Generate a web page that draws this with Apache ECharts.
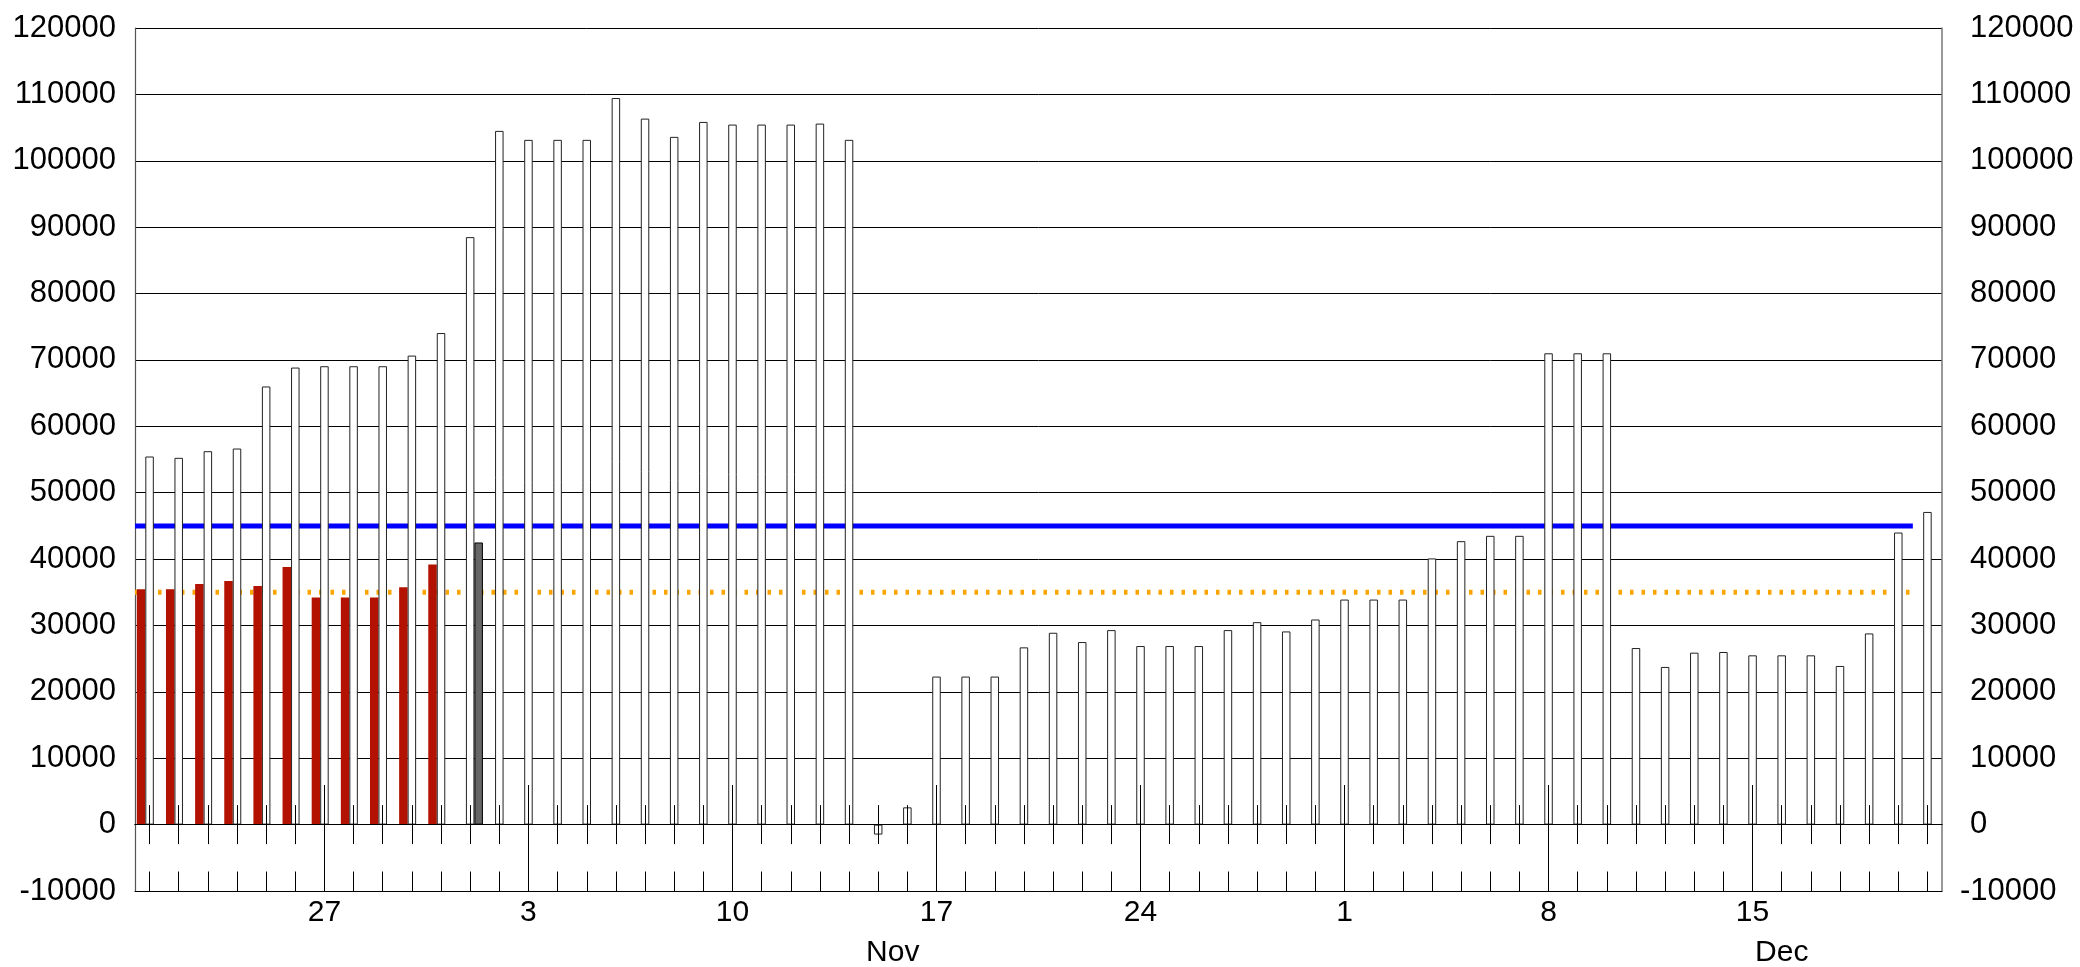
<!DOCTYPE html>
<html>
<head>
<meta charset="utf-8">
<script src="https://cdn.jsdelivr.net/npm/echarts@6/dist/echarts.min.js"></script>
<style>
html,body{margin:0;padding:0;background:#ffffff;}
#chart{width:2080px;height:967px;}
</style>
</head>
<body>
<div id="chart"></div>
<script>
// ---- data ----
const categories = [
  'Oct 21','Oct 22','Oct 23','Oct 24','Oct 25','Oct 26','Oct 27','Oct 28','Oct 29','Oct 30','Oct 31',
  'Nov 1','Nov 2','Nov 3','Nov 4','Nov 5','Nov 6','Nov 7','Nov 8','Nov 9','Nov 10',
  'Nov 11','Nov 12','Nov 13','Nov 14','Nov 15','Nov 16','Nov 17','Nov 18','Nov 19','Nov 20',
  'Nov 21','Nov 22','Nov 23','Nov 24','Nov 25','Nov 26','Nov 27','Nov 28','Nov 29','Nov 30',
  'Dec 1','Dec 2','Dec 3','Dec 4','Dec 5','Dec 6','Dec 7','Dec 8','Dec 9','Dec 10',
  'Dec 11','Dec 12','Dec 13','Dec 14','Dec 15','Dec 16','Dec 17','Dec 18','Dec 19','Dec 20','Dec 21'
];
const whiteValues = [
  55450, 55250, 56250, 56650, 66000, 68850, 69050, 69050, 69050, 70650, 74050,
  88500, 104500, 103150, 103150, 103150, 109450, 106350, 103600, 105850, 105450,
  105450, 105450, 105600, 103150, -1500, 2600, 22300, 22300, 22300, 26700,
  28900, 27500, 29300, 26900, 26900, 26900, 29300, 30500, 29100, 30900,
  33900, 33900, 33900, 40100, 42700, 43500, 43500, 71000, 71000, 71000,
  26600, 23750, 25900, 26000, 25500, 25500, 25500, 23900, 28800, 44000, 47100
];
// red bars: first days of the range
const redValues = [35450, 35450, 36250, 36700, 35950, 38800, 34200, 34200, 34200, 35750, 39200];
// single gray bar
const grayDay = 'Nov 1';
const grayValue = 42500;
// reference lines
const blueLevel = 45000;
const orangeLevel = 35000;
const refLineFirstDay = 'Oct 21';
const refLineLastDay = 'Dec 20';
// tick labels
const weekLabelDays = ['Oct 27','Nov 3','Nov 10','Nov 17','Nov 24','Dec 1','Dec 8','Dec 15'];
const months = [ {name:'Nov', first:'Nov 1', days:30}, {name:'Dec', first:'Dec 1', days:31} ];
const yMin = -10000, yMax = 120000, yStep = 10000;

// ---- build ----
const n = categories.length;
const redData = categories.map((c, i) => i < redValues.length ? redValues[i] : null);
const grayData = categories.map(c => c === grayDay ? grayValue : null);
const pos = d => categories.indexOf(d) + 1; // 1-based day position
const lineFrom = pos(refLineFirstDay) - 0.5;
const lineTo = pos(refLineLastDay) + 0.5;
const monthPos = months.map(m => pos(m.first) + (m.days - 1) / 2);
const monthByPos = {};
months.forEach((m, i) => { monthByPos[monthPos[i]] = m.name; });
const isWeek = (i, v) => weekLabelDays.indexOf(v !== undefined ? v : categories[i]) >= 0;

const FONT = 'Liberation Sans, Arial, sans-serif';
const black = '#000000';

const chart = echarts.init(document.getElementById('chart'), null, {renderer: 'canvas'});
const baseCat = {
  type: 'category', data: categories, gridIndex: 0, position: 'bottom',
  splitLine: {show: false}, z: 5
};
chart.setOption({
  animation: false,
  backgroundColor: '#ffffff',
  textStyle: {fontFamily: FONT},
  grid: {left: 135, right: 138, top: 28, bottom: 76, containLabel: false, outerBoundsMode: 'none'},
  xAxis: [
    Object.assign({}, baseCat, {
      axisLine: {show: true, onZero: false, lineStyle: {color: black, width: 1}},
      axisTick: {show: true, alignWithLabel: true, inside: true, length: 19.5, interval: 0, lineStyle: {color: black, width: 1}},
      axisLabel: {show: true, interval: isWeek, formatter: v => v.split(' ')[1], fontSize: 30, margin: 7, color: black, fontFamily: FONT}
    }),
    Object.assign({}, baseCat, {
      axisLine: {show: false, onZero: false},
      axisTick: {show: true, alignWithLabel: true, inside: true, length: 106, interval: isWeek, lineStyle: {color: black, width: 1}},
      axisLabel: {show: false}
    }),
    Object.assign({}, baseCat, {
      axisLine: {show: true, onZero: true, onZeroAxisIndex: 0, lineStyle: {color: black, width: 1}},
      axisTick: {show: true, alignWithLabel: true, inside: false, length: 19.5, interval: 0, lineStyle: {color: black, width: 1}},
      axisLabel: {show: false}
    }),
    Object.assign({}, baseCat, {
      axisLine: {show: true, onZero: true, onZeroAxisIndex: 0, lineStyle: {color: black, width: 1}},
      axisTick: {show: true, alignWithLabel: true, inside: true, length: 19.5, interval: 0, lineStyle: {color: black, width: 1}},
      axisLabel: {show: false}
    }),
    {
      type: 'value', gridIndex: 0, min: 0.5, max: n + 0.5, show: false,
      axisLine: {onZero: false}
    },
    {
      type: 'value', gridIndex: 0, min: 0.5, max: n + 0.5, position: 'bottom',
      axisLine: {show: false, onZero: false}, axisTick: {show: false}, splitLine: {show: false},
      axisLabel: {show: true, customValues: monthPos, formatter: v => monthByPos[v] || '', fontSize: 30, margin: 47, color: black, fontFamily: FONT}
    }
  ],
  yAxis: [
    {
      type: 'value', min: yMin, max: yMax, interval: yStep, position: 'left',
      axisLine: {show: true, onZero: false, lineStyle: {color: '#555555', width: 1.2}},
      axisTick: {show: false},
      splitLine: {show: true, lineStyle: {color: black, width: 1}},
      axisLabel: {fontSize: 31, margin: 19, color: black, fontFamily: FONT, formatter: v => String(v)}
    },
    {
      type: 'value', min: yMin, max: yMax, interval: yStep, position: 'right',
      axisLine: {show: true, onZero: false, lineStyle: {color: '#777777', width: 1.5}},
      axisTick: {show: false},
      splitLine: {show: false},
      axisLabel: {
        fontSize: 31, margin: 18, color: black, fontFamily: FONT,
        formatter: v => v < 0 ? '{n|' + v + '}' : '{p|' + v + '}',
        rich: {
          n: {fontSize: 31, color: black, fontFamily: FONT},
          p: {fontSize: 31, color: black, fontFamily: FONT, padding: [0, 0, 0, 10]}
        }
      }
    }
  ],
  series: [
    {
      name: 'blue', type: 'line', xAxisIndex: 4, yAxisIndex: 0, z: 1,
      data: [[lineFrom, blueLevel], [lineTo, blueLevel]],
      symbol: 'none', lineStyle: {color: '#0000ff', width: 5, cap: 'butt'}, silent: true
    },
    {
      name: 'orange', type: 'line', xAxisIndex: 4, yAxisIndex: 0, z: 1,
      data: [[lineFrom, orangeLevel], [lineTo, orangeLevel]],
      symbol: 'none', lineStyle: {color: '#ffa500', width: 5, type: [3.5, 8], cap: 'butt'}, silent: true
    },
    {
      name: 'red', type: 'bar', xAxisIndex: 0, yAxisIndex: 0, z: 2,
      data: redData, barWidth: 8.5, barGap: '0%',
      itemStyle: {color: '#b31200'}
    },
    {
      name: 'white', type: 'bar', xAxisIndex: 0, yAxisIndex: 0, z: 2,
      data: whiteValues, barWidth: 8.5, barGap: '0%',
      itemStyle: {color: '#ffffff', borderColor: '#222222', borderWidth: 1}
    },
    {
      name: 'gray', type: 'bar', xAxisIndex: 0, yAxisIndex: 0, z: 2,
      data: grayData, barWidth: 8.5, barGap: '0%',
      itemStyle: {color: '#666666', borderColor: '#000000', borderWidth: 1}
    }
  ]
});
</script>
</body>
</html>
